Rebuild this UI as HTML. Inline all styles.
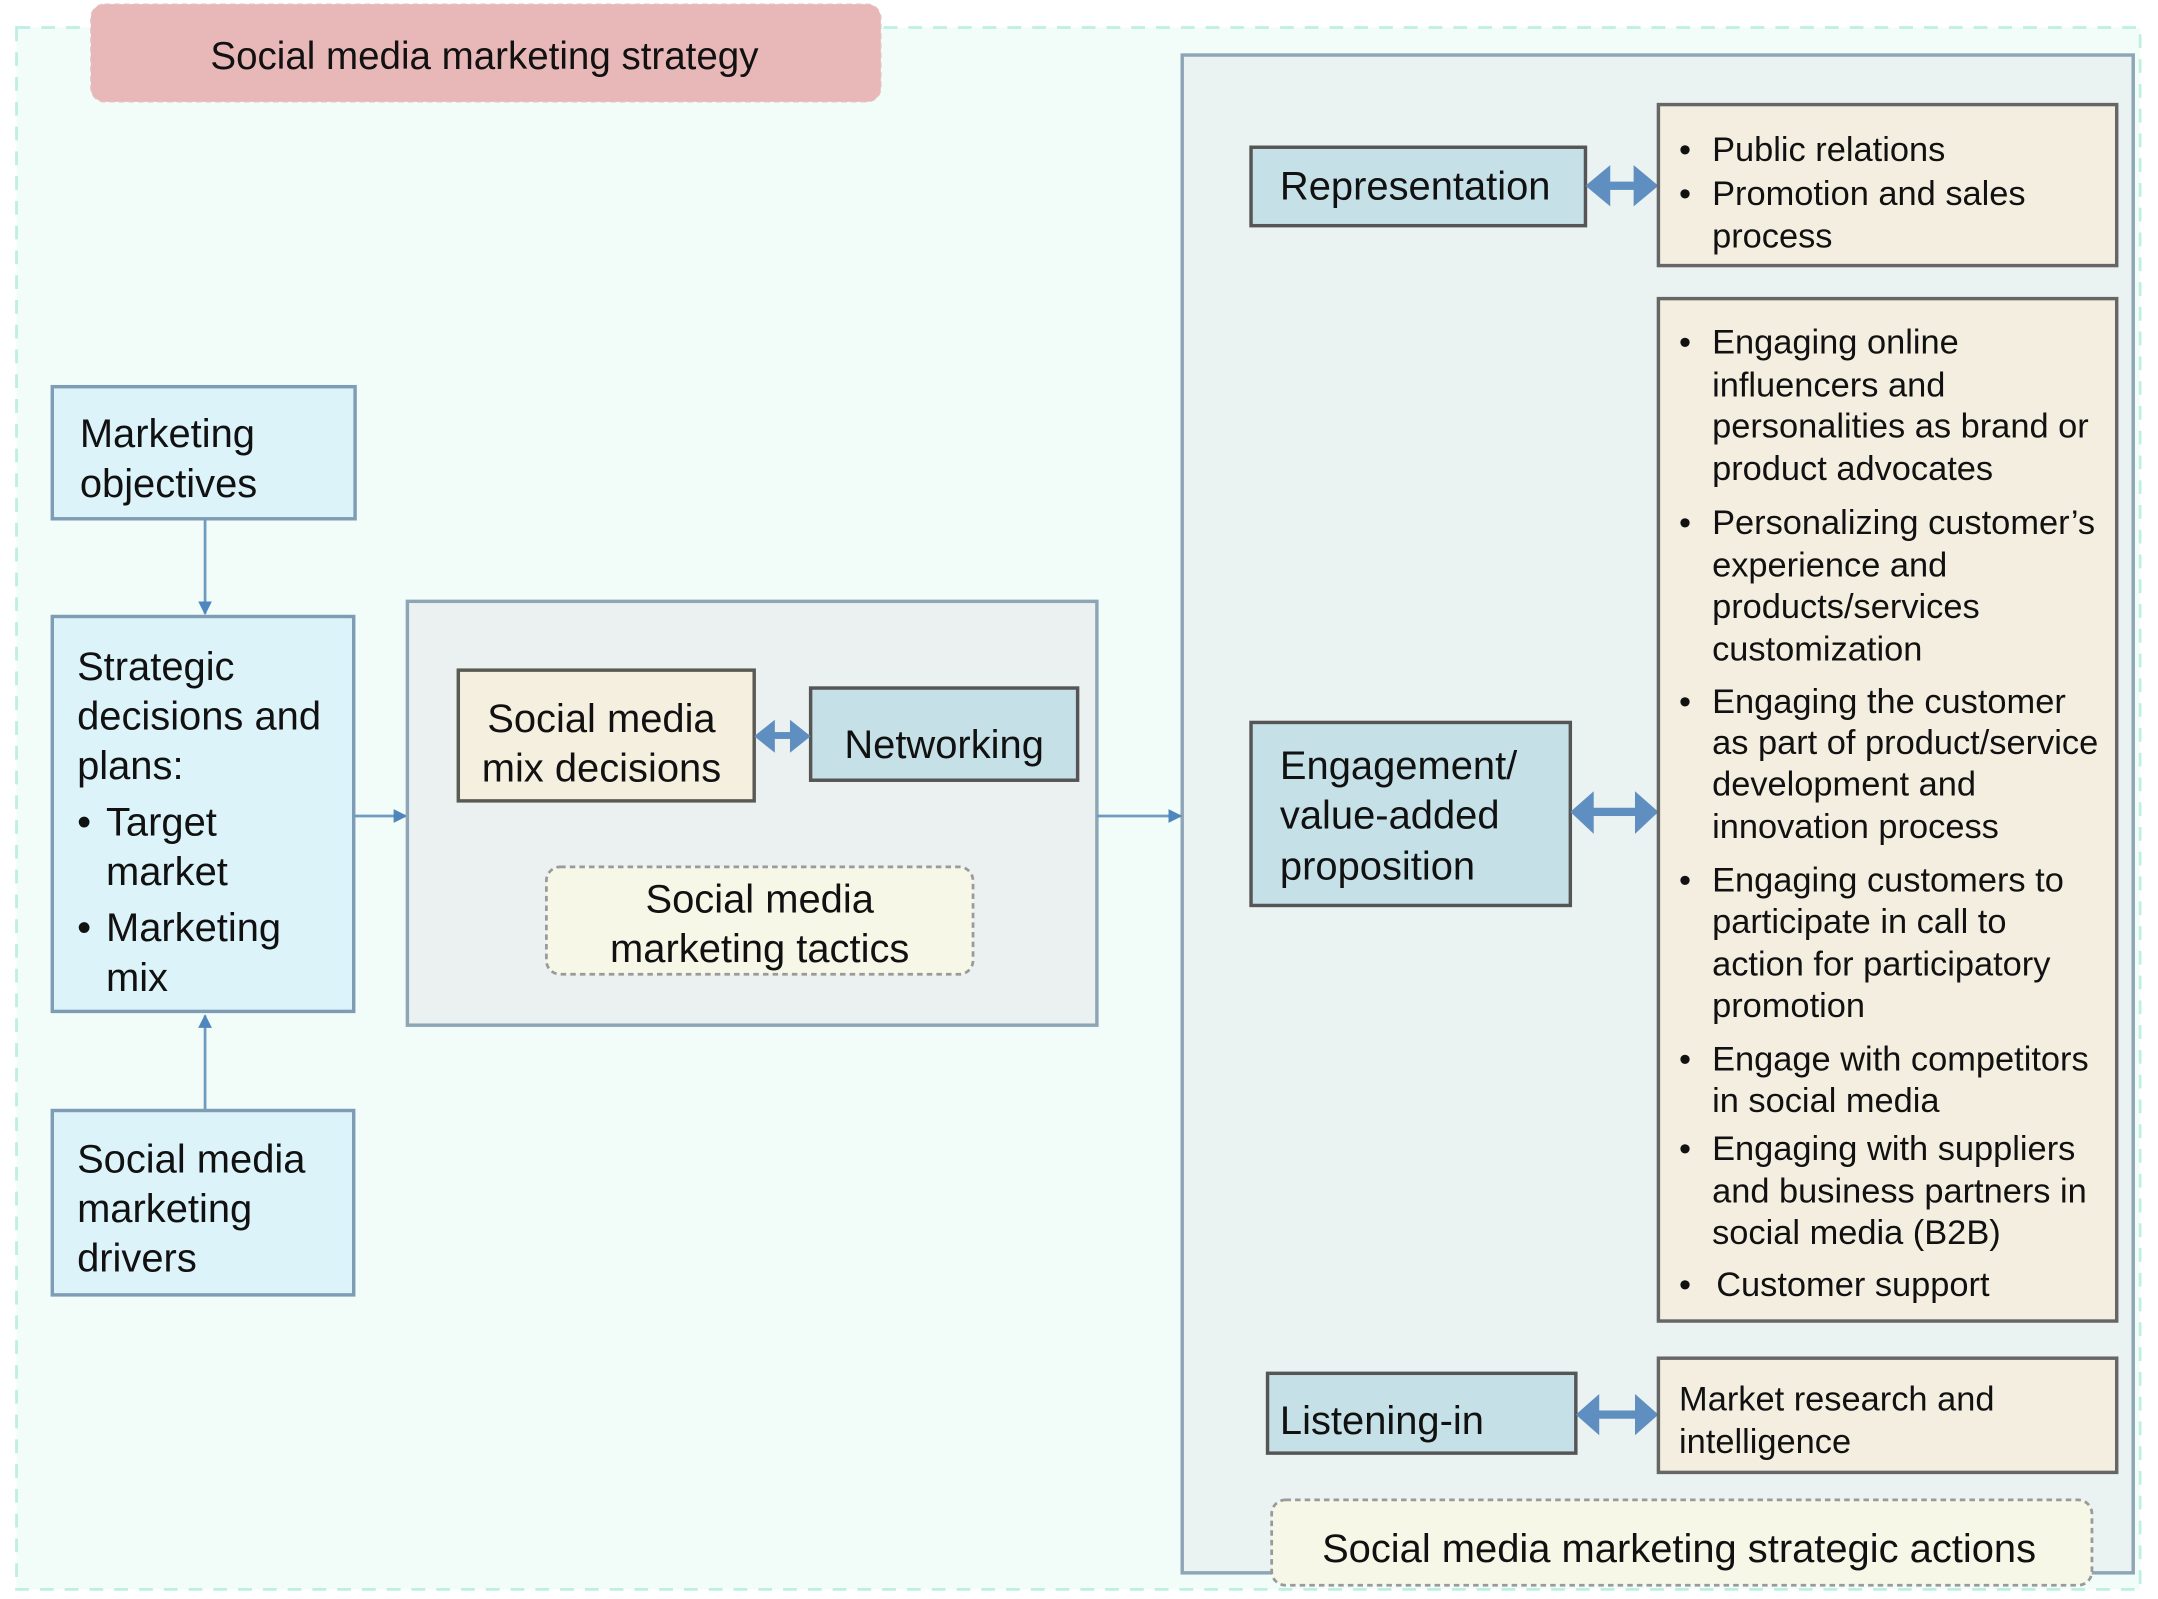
<!DOCTYPE html>
<html><head><meta charset="utf-8"><style>
html,body{margin:0;padding:0;background:#fff;}
svg{display:block;}
text{font-family:"Liberation Sans",Arial,sans-serif;fill:#111;}
</style></head><body>
<svg width="2158" height="1599" viewBox="0 0 1568 1162" preserveAspectRatio="none" xmlns="http://www.w3.org/2000/svg">
<defs>
<marker id="ah" viewBox="0 0 10 10" refX="9" refY="5" markerWidth="5" markerHeight="5" orient="auto"><path d="M0,0 L10,5 L0,10 z" fill="#4f86bd"/></marker>
</defs>
<!-- outer dashed -->
<rect x="12" y="20" width="1543" height="1135" fill="#f2fdfa" stroke="#bdefe2" stroke-width="2" stroke-dasharray="10,8"/>
<!-- title -->
<rect x="66" y="3" width="574" height="71" rx="10" fill="#e8b7b8" stroke="#e3c2c2" stroke-dasharray="4,3"/>
<text x="352" y="50" font-size="28" text-anchor="middle">Social media marketing strategy</text>
<!-- right panel -->
<rect x="859" y="40" width="691" height="1103" fill="#eaf2f2" stroke="#8ea5b6" stroke-width="2.5"/>
<!-- left boxes -->
<rect x="38" y="281" width="220" height="96" fill="#dcf3fa" stroke="#7e9db5" stroke-width="2.5"/>
<text font-size="29"><tspan x="58" y="325">Marketing</tspan><tspan x="58" y="361">objectives</tspan></text>
<line x1="149" y1="377" x2="149" y2="446" stroke="#6f9bc3" stroke-width="2" marker-end="url(#ah)"/>
<rect x="38" y="448" width="219" height="287" fill="#dcf3fa" stroke="#7e9db5" stroke-width="2.5"/>
<text font-size="29"><tspan x="56" y="494">Strategic</tspan><tspan x="56" y="530">decisions and</tspan><tspan x="56" y="566">plans:</tspan>
<tspan x="56" y="607">•</tspan><tspan x="77" y="607">Target</tspan><tspan x="77" y="643">market</tspan>
<tspan x="56" y="684">•</tspan><tspan x="77" y="684">Marketing</tspan><tspan x="77" y="720">mix</tspan></text>
<line x1="149" y1="806" x2="149" y2="738" stroke="#6f9bc3" stroke-width="2" marker-end="url(#ah)"/>
<rect x="38" y="807" width="219" height="134" fill="#dcf3fa" stroke="#7e9db5" stroke-width="2.5"/>
<text font-size="29"><tspan x="56" y="852">Social media</tspan><tspan x="56" y="888">marketing</tspan><tspan x="56" y="924">drivers</tspan></text>
<line x1="257" y1="593" x2="295" y2="593" stroke="#6f9bc3" stroke-width="2" marker-end="url(#ah)"/>
<!-- middle panel -->
<rect x="296" y="437" width="501" height="308" fill="#ebf1f1" stroke="#8ea5b6" stroke-width="2.5"/>
<rect x="333" y="487" width="215" height="95" fill="#f5efdf" stroke="#5a5a55" stroke-width="2.5"/>
<text font-size="29" text-anchor="middle"><tspan x="437" y="532">Social media</tspan><tspan x="437" y="568">mix decisions</tspan></text>
<rect x="589" y="500" width="194" height="67" fill="#c5e0e7" stroke="#555" stroke-width="2.5"/>
<text x="686" y="551" font-size="29" text-anchor="middle">Networking</text>
<g fill="#5f8fc0"><rect x="558" y="532" width="22" height="5"/><path d="M548,535 L563,523 L563,547 z"/><path d="M589,535 L574,523 L574,547 z"/></g>
<rect x="397" y="630" width="310" height="78" rx="10" fill="#f6f7e7" stroke="#9a9a9a" stroke-width="2" stroke-dasharray="4,3"/>
<text font-size="29" text-anchor="middle"><tspan x="552" y="663">Social media</tspan><tspan x="552" y="699">marketing tactics</tspan></text>
<line x1="797" y1="593" x2="858" y2="593" stroke="#6f9bc3" stroke-width="2" marker-end="url(#ah)"/>
<!-- Representation -->
<rect x="909" y="107" width="243" height="57" fill="#c5e0e7" stroke="#555" stroke-width="2.5"/>
<text x="930" y="145" font-size="29">Representation</text>
<g fill="#5f8fc0"><rect x="1163" y="132" width="30" height="6"/><path d="M1152,135 L1170,120 L1170,150 z"/><path d="M1205,135 L1187,120 L1187,150 z"/></g>
<rect x="1205" y="76" width="333" height="117" fill="#f3eee0" stroke="#666" stroke-width="2.5"/>
<text font-size="25"><tspan x="1220" y="117">•</tspan><tspan x="1244" y="117">Public relations</tspan><tspan x="1220" y="149">•</tspan><tspan x="1244" y="149">Promotion and sales</tspan><tspan x="1244" y="180">process</tspan></text>
<!-- Engagement -->
<rect x="909" y="525" width="232" height="133" fill="#c5e0e7" stroke="#555" stroke-width="2.5"/>
<text font-size="29"><tspan x="930" y="566">Engagement/</tspan><tspan x="930" y="602">value-added</tspan><tspan x="930" y="639">proposition</tspan></text>
<g fill="#5f8fc0"><rect x="1153" y="587" width="40" height="6"/><path d="M1141,590 L1158,575 L1158,606 z"/><path d="M1205,590 L1188,575 L1188,606 z"/></g>
<rect x="1205" y="217" width="333" height="743" fill="#f3eee0" stroke="#666" stroke-width="2.5"/>
<text font-size="25">
<tspan x="1220" y="257">•</tspan><tspan x="1244" y="257">Engaging online</tspan><tspan x="1244" y="288">influencers and</tspan><tspan x="1244" y="318">personalities as brand or</tspan><tspan x="1244" y="349">product advocates</tspan>
<tspan x="1220" y="388">•</tspan><tspan x="1244" y="388">Personalizing customer’s</tspan><tspan x="1244" y="419">experience and</tspan><tspan x="1244" y="449">products/services</tspan><tspan x="1244" y="480">customization</tspan>
<tspan x="1220" y="518">•</tspan><tspan x="1244" y="518">Engaging the customer</tspan><tspan x="1244" y="548">as part of product/service</tspan><tspan x="1244" y="578">development and</tspan><tspan x="1244" y="609">innovation process</tspan>
<tspan x="1220" y="648">•</tspan><tspan x="1244" y="648">Engaging customers to</tspan><tspan x="1244" y="678">participate in call to</tspan><tspan x="1244" y="709">action for participatory</tspan><tspan x="1244" y="739">promotion</tspan>
<tspan x="1220" y="778">•</tspan><tspan x="1244" y="778">Engage with competitors</tspan><tspan x="1244" y="808">in social media</tspan>
<tspan x="1220" y="843">•</tspan><tspan x="1244" y="843">Engaging with suppliers</tspan><tspan x="1244" y="874">and business partners in</tspan><tspan x="1244" y="904">social media (B2B)</tspan>
<tspan x="1220" y="942">•</tspan><tspan x="1247" y="942">Customer support</tspan>
</text>
<!-- Listening-in -->
<rect x="921" y="998" width="224" height="58" fill="#c5e0e7" stroke="#555" stroke-width="2.5"/>
<text x="930" y="1042" font-size="29">Listening-in</text>
<g fill="#5f8fc0"><rect x="1157" y="1025" width="36" height="6"/><path d="M1145,1028 L1162,1013 L1162,1043 z"/><path d="M1205,1028 L1188,1013 L1188,1043 z"/></g>
<rect x="1205" y="987" width="333" height="83" fill="#f3eee0" stroke="#666" stroke-width="2.5"/>
<text font-size="25"><tspan x="1220" y="1025">Market research and</tspan><tspan x="1220" y="1056">intelligence</tspan></text>
<rect x="924" y="1090" width="596" height="62" rx="10" fill="#f6f7e7" stroke="#9a9a9a" stroke-width="2" stroke-dasharray="4,3"/>
<text x="1220" y="1135" font-size="29" text-anchor="middle">Social media marketing strategic actions</text>
</svg>
</body></html>
